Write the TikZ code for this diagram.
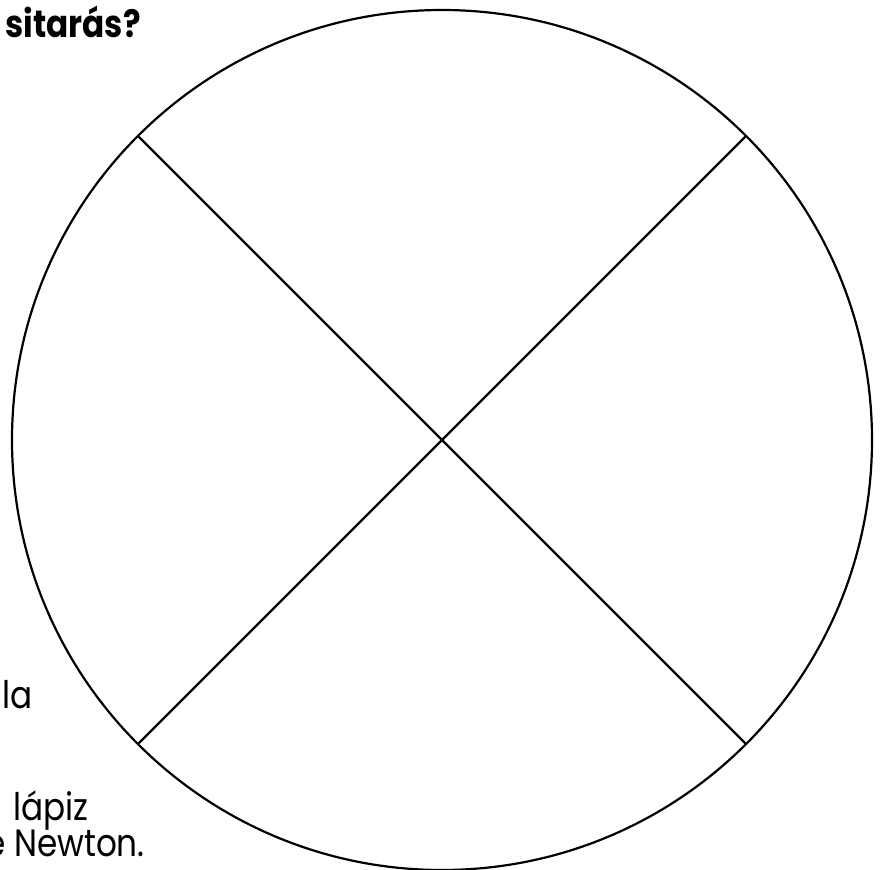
\documentclass[tikz,border=0pt]{standalone}
\usepackage{fontspec}
\setmainfont{Poppins}[FakeStretch=0.86]
\begin{document}
\begin{tikzpicture}[x=1pt, y=-1pt,
	rim/.style={line width=2.2pt},
	wheel/.style={circle, inner sep=0, outer sep=0, minimum size=860pt,
				draw=black, rim},
	words/.style={inner sep=0, anchor=base east, font=\fontsize{38}{40}\selectfont}]
	\useasboundingbox (0,0) rectangle (881,870);
	\node[words, font=\fontsize{38}{40}\selectfont\bfseries] (ask) at (141,37) {sitarás?};
	\node[words] (la) at (33,708) {la};
	\node[words] (pencil) at (89,820) {lápiz};
	\node[words] (newton) at (145,856) {e Newton.};
	\node[wheel] (wheel) at (442,440) {};
	\draw[rim] (wheel.135) -- (wheel.-45);
	\draw[rim] (wheel.45) -- (wheel.-135);

\end{tikzpicture}
\end{document}
